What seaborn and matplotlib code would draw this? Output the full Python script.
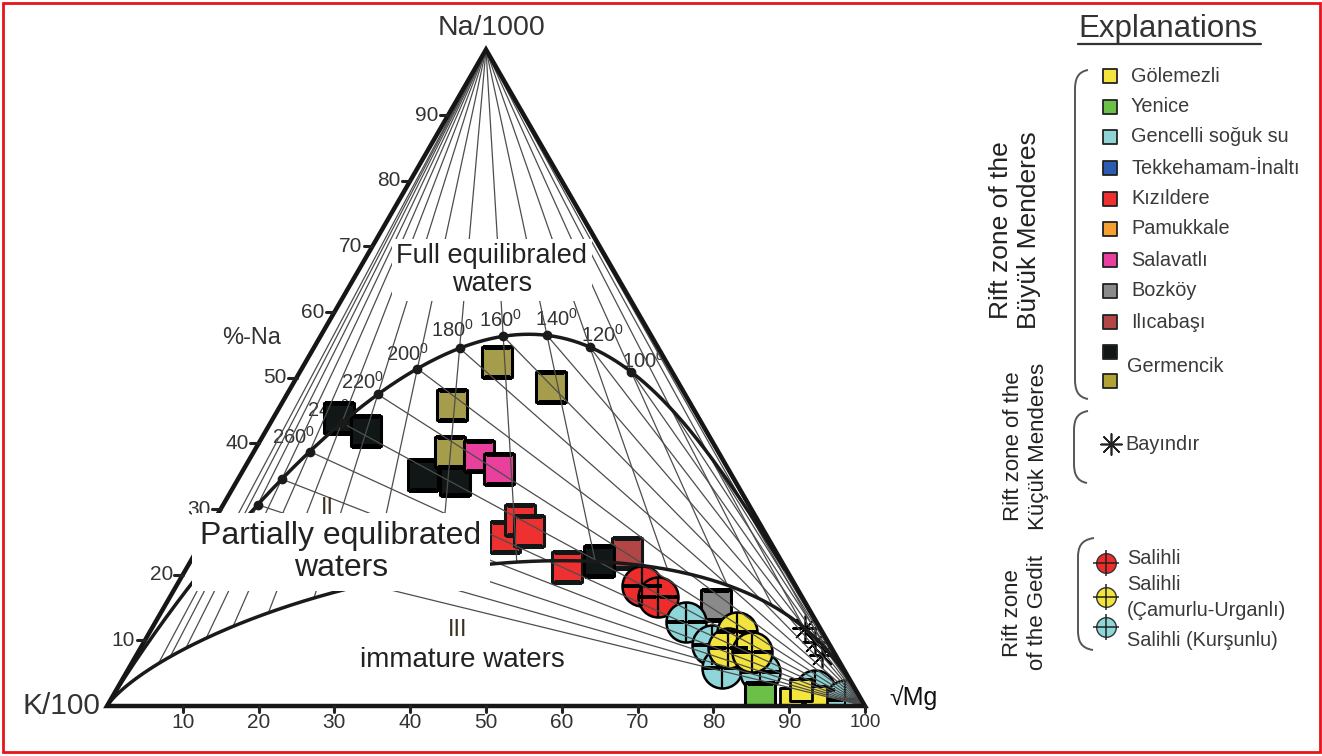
import numpy as np
import pandas as pd
import matplotlib
matplotlib.use("Agg")
import matplotlib.pyplot as plt
from matplotlib.patches import Polygon, Rectangle, PathPatch
from matplotlib.path import Path
import seaborn as sns

sns.set_theme(style="white")
plt.rcParams["font.family"] = ["Liberation Sans", "DejaVu Sans"]
plt.rcParams["mathtext.fontset"] = "custom"
plt.rcParams["mathtext.rm"] = "Liberation Sans"
plt.rcParams["mathtext.it"] = "Liberation Sans:italic"
plt.rcParams["mathtext.bf"] = "Liberation Sans:bold"

# ---------------------------------------------------------------
# Sample compositions, ternary percent of Na/1000, K/100, sqrt(Mg)
# ---------------------------------------------------------------
germencik_black_na = [43.9, 41.9, 35.2, 34.4, 22.1]
germencik_black_k = [47.4, 44.9, 40.7, 36.9, 24.0]
germencik_black_mg = [8.7, 13.2, 24.1, 28.7, 53.9]

germencik_olive_na = [52.4, 48.6, 45.9, 38.7]
germencik_olive_k = [22.3, 17.1, 31.5, 35.4]
germencik_olive_mg = [25.3, 34.3, 22.6, 25.9]

salavatli_na = [38.1, 36.1]
salavatli_k = [31.9, 30.3]
salavatli_mg = [30.0, 33.6]

kizildere_na = [25.8, 28.3, 26.7, 21.2]
kizildere_k = [34.6, 31.4, 31.0, 28.7]
kizildere_mg = [39.6, 40.3, 42.3, 50.1]

ilicabasi_na = [23.3]
ilicabasi_k = [19.7]
ilicabasi_mg = [57.0]

bozkoy_na = [15.4]
bozkoy_k = [12.0]
bozkoy_mg = [72.6]

yenice_na = [1.2]
yenice_k = [13.3]
yenice_mg = [85.5]

golemezli_na = [1.0, 1.4, 2.4]
golemezli_k = [9.2, 5.8, 7.2]
golemezli_mg = [89.8, 92.8, 90.4]

bayindir_na = [11.9, 9.8, 7.8]
bayindir_k = [2.0, 1.7, 1.8]
bayindir_mg = [86.1, 88.5, 90.4]

salihli_na = [18.3, 16.6]
salihli_k = [20.3, 19.0]
salihli_mg = [61.4, 64.4]

camurlu_na = [11.3, 8.8, 8.2]
camurlu_k = [11.2, 13.7, 10.8]
camurlu_mg = [77.5, 77.5, 81.0]

kursunlu_na = [12.8, 9.3, 5.8, 5.2, 2.4, 0.9]
kursunlu_k = [17.2, 15.6, 16.0, 11.3, 5.4, 2.2]
kursunlu_mg = [70.0, 75.1, 78.2, 83.5, 92.2, 96.9]

# Geothermometer grid (degrees C)
isotherm_c = list(range(20, 341, 20))
dot_c = list(range(100, 301, 20))
label_c = list(range(100, 261, 20))
side_ticks = list(range(10, 100, 10))
base_ticks = list(range(10, 101, 10))

legend_names = ["Gölemezli", "Yenice", "Gencelli soğuk su", "Tekkehamam-İnaltı",
                "Kızıldere", "Pamukkale", "Salavatlı", "Bozköy", "Ilıcabaşı"]
legend_colors = ["#f3e53c", "#6cbf47", "#8fd4d4", "#2b5cb0", "#ee3030",
                 "#f6a032", "#e8409c", "#8a8a8a", "#b24646"]

C_BLACK = "#111717"
C_OLIVE = "#a69d4c"
C_TEXT = "#333333"
C_GRID = "#4d4d4d"

SQ3 = np.sqrt(3) / 2


def tern_xy(na, k, mg):
    na = np.asarray(na, float)
    k = np.asarray(k, float)
    mg = np.asarray(mg, float)
    tot = na + k + mg
    na = 100 * na / tot
    mg = 100 * mg / tot
    return mg + na / 2, na * SQ3


def full_equilibrium(tc):
    """Na/K and K/Mg geothermometers of Giggenbach (1988)."""
    T = np.asarray(tc, float) + 273.15
    na_k = 10 ** (1390 / T - 1.75)
    k2_mg = 10 ** (14.0 - 4410 / T)
    return na_k / 1000, np.full_like(T, 0.01), 1 / np.sqrt(k2_mg)


def immature_line(u):
    """Maturity index 2.0 line, u = log(K/sqrt(Mg)) in plot units."""
    u = np.asarray(u, float)
    return 10 ** -(0.26 + 0.63 * u), np.ones_like(u), 10 ** -u


def kmg_log_ratio(tc):
    return 5 - 2205 / (np.asarray(tc, float) + 273.15)


# ---------------------------------------------------------------
W, H = 1322, 756
PX = 7.58          # pixels per ternary percent
OX, OY = 107, 706  # K/100 corner

fig = plt.figure(figsize=(W / 100, H / 100), dpi=100)
fig.patch.set_facecolor("white")
ax = fig.add_axes([0, 0, 1, 1])
ax.axis("off")


def px2d(px, py):
    return (px - OX) / PX, (OY - py) / PX


corners_x, corners_y = tern_xy([0, 0, 100], [100, 0, 0], [0, 100, 0])
tri_patch = Polygon(np.column_stack([corners_x, corners_y]), closed=True,
                    facecolor="none", edgecolor="none", transform=ax.transData)
ax.add_patch(tri_patch)


def plot_group(na, k, mg, marker, size, face, edge, lw, z):
    x, y = tern_xy(na, k, mg)
    df = pd.DataFrame({"x": x, "y": y})
    sns.scatterplot(data=df, x="x", y="y", marker=marker, s=size, color=face,
                    edgecolor=edge, linewidth=lw, ax=ax, legend=False,
                    zorder=z)
    coll = ax.collections[-1]
    coll.set_clip_path(tri_patch)
    return coll


SQ = 480
CI = 830

# sample markers
plot_group(ilicabasi_na, ilicabasi_k, ilicabasi_mg, "s", SQ, "#b24646", C_BLACK, 2.2, 2)
plot_group(kizildere_na, kizildere_k, kizildere_mg, "s", SQ, "#ee3030", C_BLACK, 2.2, 2)
plot_group(germencik_black_na, germencik_black_k, germencik_black_mg, "s", SQ, C_BLACK, "black", 2.2, 2)
plot_group(germencik_olive_na, germencik_olive_k, germencik_olive_mg, "s", SQ, C_OLIVE, "black", 2.2, 2)
plot_group(salavatli_na, salavatli_k, salavatli_mg, "s", SQ, "#e8409c", "black", 2.2, 2)
plot_group(bozkoy_na, bozkoy_k, bozkoy_mg, "s", SQ, "#8a8a8a", "black", 2.2, 2)
for na_, k_, mg_, col in [(salihli_na, salihli_k, salihli_mg, "#ee2c2c"),
                          (kursunlu_na, kursunlu_k, kursunlu_mg, "#8ed6d8"),
                          (camurlu_na, camurlu_k, camurlu_mg, "#f2e43c")]:
    plot_group(na_, k_, mg_, "o", CI, col, "black", 1.8, 2)
    plot_group(na_, k_, mg_, "+", CI, "black", "black", 1.6, 2)
plot_group(yenice_na, yenice_k, yenice_mg, "s", SQ, "#6cbf47", "black", 2.2, 2)
plot_group(golemezli_na, golemezli_k, golemezli_mg, "s", 230, "#f3e53c", "black", 2.0, 2)
plot_group(bayindir_na, bayindir_k, bayindir_mg, (8, 2, 0), 330, "black", "black", 1.2, 2)

# isotherms
apex_x, apex_y = tern_xy(100, 0, 0)
mgv_x, mgv_y = tern_xy(0, 0, 100)
for t in isotherm_c:
    ex, ey = tern_xy(*immature_line(kmg_log_ratio(t)))
    ax.plot([apex_x, ex], [apex_y, ey], color=C_GRID, lw=0.9, zorder=3)
    fx, fy = tern_xy(*full_equilibrium(t))
    ax.plot([mgv_x, fx], [mgv_y, fy], color=C_GRID, lw=0.9, zorder=3)

# full equilibrium curve
t_curve = np.concatenate([np.linspace(15, 400, 400), np.geomspace(400, 6000, 200)])
cx, cy = tern_xy(*full_equilibrium(t_curve))
ax.plot(cx, cy, color="#1a1a1a", lw=2.5, zorder=4, solid_capstyle="round")
dx_, dy_ = tern_xy(*full_equilibrium(dot_c))
ax.plot(dx_, dy_, "o", color="#1a1a1a", ms=6, zorder=5)

# immature water boundary
u = np.linspace(-4.5, 6.0, 600)
mx, my = tern_xy(*immature_line(u))
ax.plot(mx, my, color="#1a1a1a", lw=2.5, zorder=4)

# temperature labels
label_offsets = {100: (12, 11), 120: (13, 12), 140: (10, 16), 160: (-3, 16),
                 180: (-7, 18), 200: (-10, 15), 220: (-15, 13), 240: (-13, 13),
                 260: (-16, 15)}
lx, ly = tern_xy(*full_equilibrium(label_c))
for t, x, y in zip(label_c, lx, ly):
    ox, oy = label_offsets[t]
    ax.annotate(f"{t}$^0$", (x, y), xytext=(ox, oy), textcoords="offset pixels",
                ha="center", va="center", fontsize=14.5, color=C_TEXT, zorder=1.5)

# triangle frame
frame = Polygon(np.column_stack([corners_x, corners_y]), closed=True,
                facecolor="none", edgecolor="#161616", lw=3.2,
                joinstyle="miter", zorder=5.5)
ax.add_patch(frame)

# axis ticks
for v in side_ticks:
    x, y = tern_xy(v, 100 - v, 0)
    ax.plot([x - 1.1, x], [y, y], color="#222222", lw=2.2, zorder=5.5)
    ax.text(x - 1.3, y, str(v), ha="right", va="center", fontsize=15,
            color=C_TEXT, zorder=6)
for v in base_ticks:
    x, y = tern_xy(0, 100 - v, v)
    ax.plot([x, x], [0, -0.8], color="#222222", lw=2.2, zorder=5.5)
    ax.text(x, -2.2, str(v), ha="center", va="center",
            fontsize=15 if v < 100 else 13.5, color=C_TEXT, zorder=6)

# corner and axis titles
ax.text(*px2d(491, 28), "Na/1000", ha="center", va="center", fontsize=20.5, color=C_TEXT)
ax.text(*px2d(100, 706), "K/100", ha="right", va="center", fontsize=21.5, color=C_TEXT)
ax.text(*px2d(889, 698), "√Mg", ha="left", va="center", fontsize=18, color="#111111")
ax.text(*px2d(252, 338), "%-Na", ha="center", va="center", fontsize=17, color=C_TEXT)

# field labels
ax.text(*px2d(492, 270), "Full equilibraled\nwaters", ha="center", va="center",
        fontsize=19.5, color="#222222", linespacing=1.1, zorder=6,
        bbox=dict(facecolor="white", edgecolor="none", pad=3))
ax.text(*px2d(341, 552), "Partially equlibrated\nwaters", ha="center", va="center",
        fontsize=23, color="#222222", linespacing=1.05, zorder=6,
        bbox=dict(facecolor="white", edgecolor="none", pad=6))
ax.text(*px2d(327, 508), "II", ha="center", va="center", fontsize=17,
        color="#3d3222", zorder=6)
ax.text(*px2d(458, 630), "III", ha="center", va="center", fontsize=17,
        color="#3d3222", zorder=6)
ax.text(*px2d(462, 660), "immature waters", ha="center", va="center", fontsize=20,
        color="#222222", zorder=6)

ax.set_xlim(-OX / PX, (W - OX) / PX)
ax.set_ylim(-(H - OY) / PX, OY / PX)

# ---------------------------------------------------------------
# Explanations panel
# ---------------------------------------------------------------
lg = fig.add_axes([0, 0, 1, 1], facecolor="none")
lg.axis("off")

lg.text(1168, 29, "Explanations", ha="center", va="center", fontsize=22.5, color=C_TEXT)
lg.plot([1078, 1261], [44, 44], color=C_TEXT, lw=1.6)

LEG_FS = 14.3
row_y = [76, 107, 137, 168, 199, 229, 260, 291, 322]
for name, col, y in zip(legend_names, legend_colors, row_y):
    lg.scatter([1110], [y], marker="s", s=100, color=col, edgecolor="#222222", linewidths=1.3)
    lg.text(1131, y, name, ha="left", va="center", fontsize=LEG_FS, color="#3a3a3a")
lg.scatter([1110, 1110], [352, 381], marker="s", s=100, color=[C_BLACK, "#b0a334"],
           edgecolor="#222222", linewidths=1.3)
lg.text(1127, 366, "Germencik", ha="left", va="center", fontsize=LEG_FS, color="#3a3a3a")

lg.scatter([1111], [444], marker=(8, 2, 0), s=230, color="#222222", linewidths=1.2)
lg.text(1125, 445, "Bayındır", ha="left", va="center", fontsize=LEG_FS, color="#3a3a3a")

for y, col in zip([563, 597, 627], ["#ee2c2c", "#f2e43c", "#8ed6d8"]):
    lg.scatter([1106], [y], marker="o", s=200, color=col, edgecolor="#333333", linewidths=1.0)
    lg.scatter([1106], [y], marker="+", s=330, color="#222222", linewidths=1.1)
for y, txt in zip([558, 584, 611, 641],
                  ["Salihli", "Salihli", "(Çamurlu-Urganlı)", "Salihli (Kurşunlu)"]):
    lg.text(1127, y, txt, ha="left", va="center", fontsize=LEG_FS, color="#3a3a3a")


# group brackets
def bracket(x_top, y_top, x_mid, y_bot, x_bot):
    verts = [(x_top, y_top), (x_mid + 2, y_top + 2), (x_mid, y_top + 10), (x_mid, y_top + 20),
             (x_mid, y_bot - 20), (x_mid, y_bot - 10), (x_mid + 2, y_bot - 2), (x_bot, y_bot)]
    codes = [Path.MOVETO, Path.CURVE4, Path.CURVE4, Path.CURVE4,
             Path.LINETO, Path.CURVE4, Path.CURVE4, Path.CURVE4]
    lg.add_patch(PathPatch(Path(verts, codes), facecolor="none", edgecolor="#555555", lw=1.4))


bracket(1088, 70, 1075, 399, 1088)
bracket(1088, 411, 1074, 483, 1087)
bracket(1094, 538, 1078, 650, 1093)

lg.text(1015, 230, "Rift zone of the\nBüyük Menderes", rotation=90, ha="center",
        va="center", fontsize=19, color="#222222", linespacing=1.25)
lg.text(1026, 446, "Rift zone of the\nKüçük Menderes", rotation=90, ha="center",
        va="center", fontsize=16, color="#222222", linespacing=1.25)
lg.text(1025, 613, "Rift zone\nof the Gedit", rotation=90, ha="center",
        va="center", fontsize=16, color="#222222", linespacing=1.25)

lg.set_xlim(0, W)
lg.set_ylim(H, 0)

# outer frame
fig.patches.append(Rectangle((3 / W, 4 / H), (W - 5) / W, (H - 7) / H,
                             transform=fig.transFigure, fill=False,
                             edgecolor="#e8141c", lw=2))

fig.savefig("out.png", dpi=100, facecolor="white")
